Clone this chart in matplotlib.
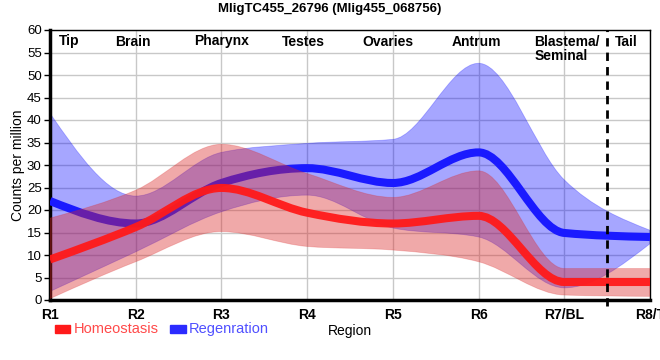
"""Expression profile of MligTC455_26796 along body regions."""

import matplotlib
matplotlib.use("Agg")
import matplotlib.pyplot as plt
import numpy as np
from matplotlib.path import Path
from matplotlib.patches import PathPatch, Rectangle

plt.rcParams["font.family"] = ["Liberation Sans", "DejaVu Sans"]

REGIONS = ["R1", "R2", "R3", "R4", "R5", "R6", "R7/BL", "R8/T"]
AREA_LABELS = ["Tip", "Brain", "Pharynx", "Testes", "Ovaries", "Antrum", "Blastema/\nSeminal", "Tail"]

homeo_mean = [9.0, 16.2, 24.9, 19.4, 17.0, 18.7, 4.0, 4.0]
homeo_upper = [18.2, 24.4, 34.6, 28.1, 22.8, 28.7, 7.0, 7.0]
homeo_lower = [0.3, 8.5, 15.2, 11.9, 11.1, 8.5, 1.1, 0.8]

regen_mean = [22.0, 17.0, 26.0, 29.3, 26.0, 32.8, 14.9, 14.0]
regen_upper = [41.5, 23.1, 32.8, 34.8, 35.7, 52.6, 26.7, 15.5]
regen_lower = [1.9, 10.7, 19.6, 23.3, 16.0, 14.0, 2.7, 12.5]

RED = "#ff1a1a"
RED_FILL = (0.86, 0.16, 0.16, 0.4)
BLUE = "#1a1aff"
BLUE_FILL = (0.0, 0.0, 1.0, 0.35)


def _monotone_slopes(x, y):
    """Tangents as used by a monotone-x cubic curve."""
    x = np.asarray(x, float)
    y = np.asarray(y, float)
    n = len(x)
    t = np.zeros(n)
    for i in range(1, n - 1):
        h0, h1 = x[i] - x[i - 1], x[i + 1] - x[i]
        s0, s1 = (y[i] - y[i - 1]) / h0, (y[i + 1] - y[i]) / h1
        p = (s0 * h1 + s1 * h0) / (h0 + h1)
        t[i] = (np.sign(s0) + np.sign(s1)) * min(abs(s0), abs(s1), 0.5 * abs(p))
    t[0] = (3 * (y[1] - y[0]) / (x[1] - x[0]) - t[1]) / 2
    t[-1] = (3 * (y[-1] - y[-2]) / (x[-1] - x[-2]) - t[-2]) / 2
    return t


def _curve_segments(x, y):
    """Bezier vertices/codes following the points (without the start MOVETO)."""
    t = _monotone_slopes(x, y)
    verts, codes = [], []
    for i in range(len(x) - 1):
        dx = (x[i + 1] - x[i]) / 3
        verts += [(x[i] + dx, y[i] + dx * t[i]),
                  (x[i + 1] - dx, y[i + 1] - dx * t[i + 1]),
                  (x[i + 1], y[i + 1])]
        codes += [Path.CURVE4] * 3
    return verts, codes


def line_path(x, y):
    verts, codes = _curve_segments(x, y)
    return Path([(x[0], y[0])] + verts, [Path.MOVETO] + codes)


def band_path(x, upper, lower):
    v1, c1 = _curve_segments(x, upper)
    xr, lr = x[::-1], lower[::-1]
    v2, c2 = _curve_segments(xr, lr)
    verts = [(x[0], upper[0])] + v1 + [(xr[0], lr[0])] + v2 + [(x[0], upper[0])]
    codes = [Path.MOVETO] + c1 + [Path.LINETO] + c2 + [Path.CLOSEPOLY]
    return Path(verts, codes)


fig = plt.figure(figsize=(6.6, 3.6), dpi=100)
ax = fig.add_axes([50 / 660, 60 / 360, 600 / 660, 270 / 360])
x = np.arange(len(REGIONS), dtype=float)

ax.add_patch(PathPatch(band_path(x, regen_upper, regen_lower), facecolor=BLUE_FILL,
                       edgecolor=(0, 0, 1, 0.25), linewidth=0.6, zorder=2))
ax.add_patch(PathPatch(line_path(x, regen_mean), fill=False, edgecolor=BLUE,
                       linewidth=5.8, capstyle="butt", zorder=3))
ax.add_patch(PathPatch(band_path(x, homeo_upper, homeo_lower), facecolor=RED_FILL,
                       edgecolor=(0.86, 0.16, 0.16, 0.25), linewidth=0.6, zorder=4))
ax.add_patch(PathPatch(line_path(x, homeo_mean), fill=False, edgecolor=RED, alpha=0.95,
                       linewidth=5.8, capstyle="butt", zorder=5))

# boundary between blastema and tail
ax.plot([6.5, 6.5], [-1.3, 60], color="black", linewidth=2, dashes=(3, 2.2),
        clip_on=False, zorder=6)

ax.set_xlim(0, 7)
ax.set_ylim(0, 60)
ax.set_xticks(x)
ax.set_xticklabels(REGIONS, fontsize=10, fontweight="bold")
ax.set_yticks(np.arange(0, 61, 5))
ax.tick_params(axis="x", length=0, pad=6)
ax.tick_params(axis="y", length=4, width=1, labelsize=9.5, pad=2)
ax.grid(True, color="#c8c8c8", linewidth=1, zorder=0)
ax.set_axisbelow(True)
for side in ("top", "right"):
    ax.spines[side].set_linewidth(1)
for side in ("left", "bottom"):
    ax.spines[side].set_linewidth(2.5)

label_x = [0.22, 0.97, 2.0, 2.96, 3.94, 4.98, 5.65, 6.72]
for lx, name in zip(label_x, AREA_LABELS):
    ha = "left" if "\n" in name else "center"
    ax.text(lx, 59, name, ha=ha, va="top", fontsize=10, fontweight="bold",
            linespacing=1.0, multialignment="left", zorder=7)

ax.set_ylabel("Counts per million", fontsize=10, labelpad=1)
fig.text(350 / 660, 1 - 331 / 360, "Region", ha="center", va="center", fontsize=10)
fig.suptitle("MligTC455_26796 (Mlig455_068756)", x=0.5, y=1 - 9 / 360, va="center",
             fontsize=9.5, fontweight="bold")

# legend drawn by hand below the axes
fig.patches.append(Rectangle((55 / 660, 1 - 333 / 360), 15 / 660, 8 / 360,
                             transform=fig.transFigure, color=RED))
fig.text(74 / 660, 1 - 329 / 360, "Homeostasis", color="#ff4a4a", fontsize=10.5,
         va="center")
fig.patches.append(Rectangle((170 / 660, 1 - 333 / 360), 16 / 660, 8 / 360,
                             transform=fig.transFigure, color="#2b2bff"))
fig.text(189 / 660, 1 - 329 / 360, "Regenration", color="#5050ff", fontsize=10.5,
         va="center")

fig.savefig("out.png", dpi=100)
